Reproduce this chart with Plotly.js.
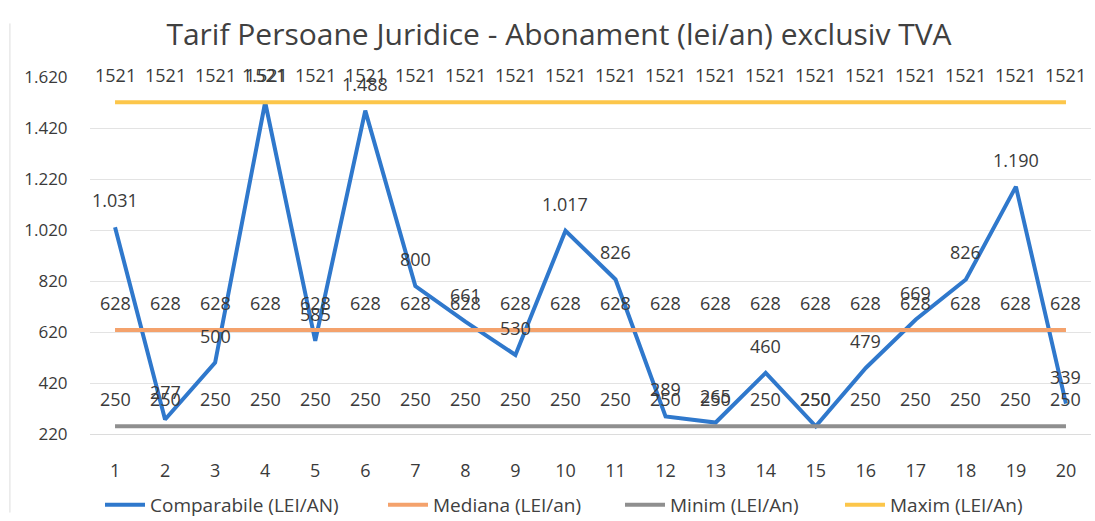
<!DOCTYPE html>
<html>
<head>
<meta charset="utf-8">
<script src="https://cdn.plot.ly/plotly-3.0.1.min.js"></script>
<style>
  html, body { margin: 0; padding: 0; background: #ffffff; }
  #chart { width: 1095px; height: 521px; }
</style>
</head>
<body>
<div id="chart"></div>
<script>
// ---- data ----
const categories = [1, 2, 3, 4, 5, 6, 7, 8, 9, 10, 11, 12, 13, 14, 15, 16, 17, 18, 19, 20];
const comparabile = [1031, 277, 500, 1521, 585, 1488, 800, 661, 530, 1017, 826, 289, 265, 460, 250, 479, 669, 826, 1190, 339];
const mediana = [628, 628, 628, 628, 628, 628, 628, 628, 628, 628, 628, 628, 628, 628, 628, 628, 628, 628, 628, 628];
const minim = [250, 250, 250, 250, 250, 250, 250, 250, 250, 250, 250, 250, 250, 250, 250, 250, 250, 250, 250, 250];
const maxim = [1521, 1521, 1521, 1521, 1521, 1521, 1521, 1521, 1521, 1521, 1521, 1521, 1521, 1521, 1521, 1521, 1521, 1521, 1521, 1521];
const seriesNames = ['Comparabile (LEI/AN)', 'Mediana (LEI/an)', 'Minim (LEI/An)', 'Maxim (LEI/An)'];
const titleText = 'Tarif Persoane Juridice - Abonament (lei/an) exclusiv TVA';

// ---- styling ----
const FONT = 'Open Sans, Liberation Sans, sans-serif';
const colors = ['#2f78cc', '#f4a26c', '#8f8f8f', '#fcc64a'];
const textColor = '#3a3a3a';
const legendIds = ['legend', 'legend2', 'legend3', 'legend4'];
const legendX = [100, 383, 620, 840];   // left edge of each legend entry, px

function fmtDot(v) {
  if (v >= 1000) {
    return Math.floor(v / 1000) + '.' + String(v % 1000).padStart(3, '0');
  }
  return String(v);
}

const allSeries = [comparabile, mediana, minim, maxim];
const traces = allSeries.map((vals, i) => ({
  type: 'scatter',
  mode: 'lines',
  x: categories,
  y: vals,
  name: seriesNames[i],
  legend: legendIds[i],
  line: { color: colors[i], width: 4 },
  hoverinfo: 'x+y+name'
}));

// data labels, built from the arrays
const annotations = [];
function addLabels(vals, formatter) {
  vals.forEach((v, i) => {
    annotations.push({
      x: categories[i], y: v, xref: 'x', yref: 'y',
      text: formatter(v), showarrow: false,
      yshift: 27,
      font: { family: FONT, size: 18, color: textColor }
    });
  });
}
addLabels(maxim, v => String(v));
addLabels(mediana, v => String(v));
addLabels(minim, v => String(v));
addLabels(comparabile, fmtDot);

const layout = {
  width: 1095,
  height: 521,
  paper_bgcolor: '#ffffff',
  plot_bgcolor: '#ffffff',
  separators: ',.',
  margin: { l: 90, r: 4, t: 77, b: 87 },
  font: { family: FONT, color: textColor },
  title: {
    text: titleText,
    font: { family: FONT, size: 30, color: '#404040' },
    x: 0.5105, xref: 'container', xanchor: 'center',
    y: 0.933, yref: 'container', yanchor: 'middle'
  },
  xaxis: {
    type: 'linear',
    range: [0.5, 20.5],
    tickmode: 'array',
    tickvals: categories,
    ticktext: categories.map(String),
    showgrid: false,
    zeroline: false,
    showline: true,
    linecolor: '#dcdcdc',
    linewidth: 1,
    ticks: 'outside',
    ticklen: 20,
    tickcolor: 'rgba(0,0,0,0)',
    automargin: false,
    tickfont: { family: FONT, size: 18, color: textColor }
  },
  yaxis: {
    range: [220, 1620],
    tick0: 220,
    dtick: 200,
    tickformat: ',d',
    showgrid: true,
    gridcolor: '#e3e3e3',
    gridwidth: 1,
    zeroline: false,
    showline: false,
    ticks: 'outside',
    ticklen: 18,
    tickcolor: 'rgba(0,0,0,0)',
    automargin: false,
    tickfont: { family: FONT, size: 17, color: textColor }
  },
  showlegend: true,
  annotations: annotations,
  shapes: [
    { type: 'line', xref: 'paper', yref: 'paper', x0: -0.08, x1: -0.08, y0: -0.22, y1: 1.15,
      line: { color: '#dddddd', width: 1 } }
  ]
};

legendIds.forEach((id, i) => {
  layout[id] = {
    orientation: 'h',
    x: legendX[i] / 1095, xref: 'container', xanchor: 'left',
    y: 0.031, yref: 'container', yanchor: 'middle',
    font: { family: FONT, size: 19, color: '#404040' },
    bgcolor: 'rgba(0,0,0,0)',
    itemwidth: 40
  };
});

Plotly.newPlot('chart', traces, layout, { displayModeBar: false, staticPlot: true });
</script>
</body>
</html>
